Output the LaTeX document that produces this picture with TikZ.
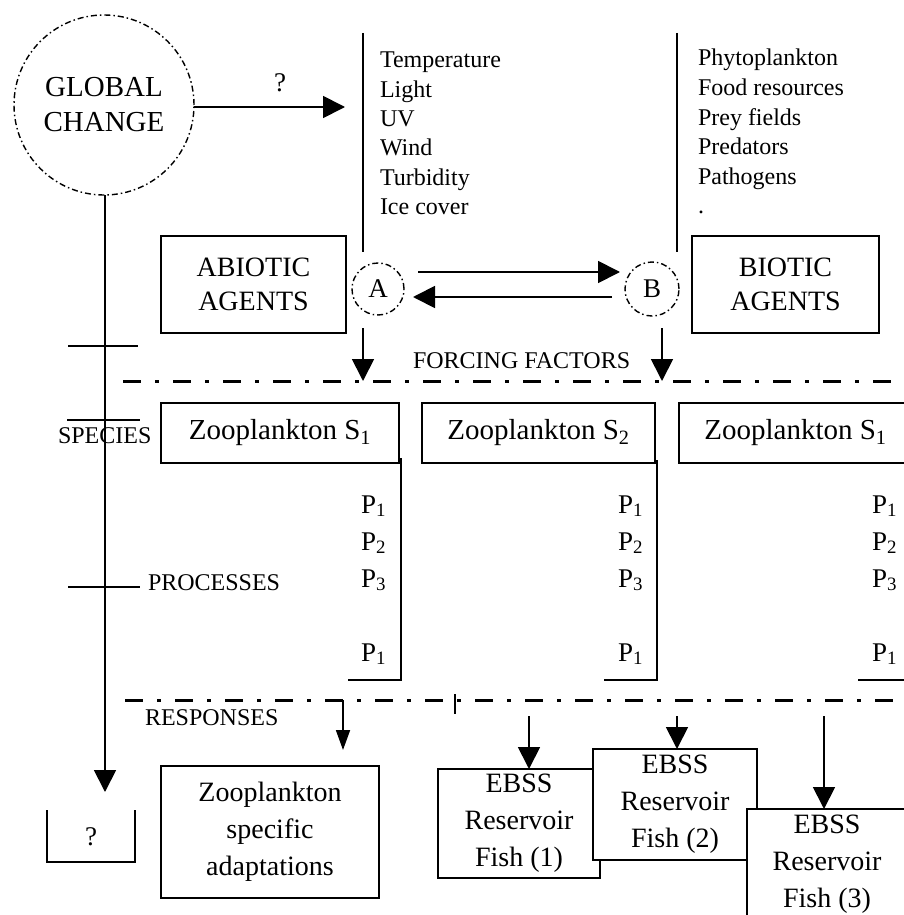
\documentclass[tikz,border=0pt]{standalone}
\usepackage{fontspec}
\setmainfont{Liberation Serif}
\usetikzlibrary{arrows.meta,calc}
\begin{document}
\begin{tikzpicture}[x=1pt,y=-1pt,
  every node/.style={inner sep=0pt, outer sep=0pt},
  thin line/.style={line width=1.6pt},
  boxst/.style={draw, line width=1.6pt, fill=white, align=center},
  arr/.style={line width=1.8pt, -{Triangle[width=22pt,length=22pt]}},
  sarr/.style={line width=1.8pt, -{Triangle[width=14pt,length=20pt]}},
  ddot/.style={line width=3pt, dash pattern=on 18pt off 14pt on 4pt off 14pt},
  circdash/.style={draw, circle, line width=1.4pt, dash pattern=on 6pt off 3pt on 1.5pt off 3pt},
  big/.style={font=\fontsize{29}{35}\selectfont},
  boxfont/.style={font=\fontsize{28}{37}\selectfont},
  lbl/.style={font=\fontsize{24}{29}\selectfont},
  plbl/.style={font=\fontsize{27}{30}\selectfont},
]
\useasboundingbox (0,0) rectangle (904,915);
\clip (0,0) rectangle (904,915);

% global change
\node[circdash, minimum size=180pt, big, align=center] (gc) at (104,105) {GLOBAL\\CHANGE};
\coordinate (gcend) at (345,107);
\draw[arr] (gc.east |- gcend) -- (gcend);
\node[font=\fontsize{27}{30}\selectfont, anchor=base] (q1) at (280,92) {?};

% vertical separators of lists
\coordinate (v1t) at (363,33); \coordinate (v1b) at (363,252);
\coordinate (v2t) at (677,33); \coordinate (v2b) at (677,252);
\draw[thin line] (v1t) -- (v1b);
\draw[thin line] (v2t) -- (v2b);

\foreach \t [count=\i] in {Temperature,Light,UV,Wind,Turbidity,Ice cover}
  \node[lbl, anchor=base west] (ab\i) at (380,{68+29.3*(\i-1)}) {\t};
\foreach \t [count=\i] in {Phytoplankton,Food resources,Prey fields,Predators,Pathogens,.}
  \node[lbl, anchor=base west] (bi\i) at (698,{66+29.5*(\i-1)}) {\t};

% agents
\node[boxst, minimum width=185pt, minimum height=97pt, font=\fontsize{28}{34}\selectfont] (abiotic) at (253.5,284.5) {ABIOTIC\\AGENTS};
\node[boxst, minimum width=187pt, minimum height=97pt, font=\fontsize{28}{34}\selectfont] (biotic) at (785.5,284.5) {BIOTIC\\AGENTS};
\node[circdash, minimum size=52pt, plbl] (A) at (378,289) {A};
\node[circdash, minimum size=54pt, plbl] (B) at (652,289) {B};

\coordinate (ab1s) at (418,272); \coordinate (ab1e) at (620,272);
\coordinate (ba1s) at (612,297); \coordinate (ba1e) at (413,297);
\draw[arr] (ab1s) -- (ab1e);
\draw[arr] (ba1s) -- (ba1e);

% forcing factors
\coordinate (fa) at (363,328); \coordinate (fb) at (662,328);
\coordinate (l1s) at (123,381); \coordinate (l1e) at (910,381);
\draw[ddot] (l1s) -- (l1e);
\draw[arr] (fa) -- (fa |- l1s);
\draw[arr] (fb) -- (fb |- l1s);
\node[lbl, anchor=base west] (forcing) at (413,368) {FORCING FACTORS};

% global vertical
\coordinate (gq) at (105,792);
\draw[arr] (gc.south -| gq) -- (gq);
\coordinate (t1a) at (68,346); \coordinate (t1b) at (138,346);
\coordinate (t2a) at (67,420); \coordinate (t2b) at (140,420);
\coordinate (t3a) at (68,587); \coordinate (t3b) at (140,587);
\draw[thin line] (t1a) -- (t1b);
\draw[thin line] (t2a) -- (t2b);
\draw[thin line] (t3a) -- (t3b);
\node[lbl, anchor=base west] (species) at (58,443) {SPECIES};
\node[lbl, anchor=base west] (processes) at (148,590) {PROCESSES};
\node[lbl, anchor=base west] (responses) at (145,725) {RESPONSES};

% species boxes
\node[boxst, font=\fontsize{29}{34}\selectfont, minimum width=238pt, minimum height=60pt] (zs1) at (280,433) {Zooplankton S\textsubscript{1}};
\node[boxst, font=\fontsize{29}{34}\selectfont, minimum width=233pt, minimum height=60pt] (zs2) at (538.5,433) {Zooplankton S\textsubscript{2}};
\node[boxst, font=\fontsize{29}{34}\selectfont, minimum width=233pt, minimum height=60pt] (zs3) at (795.5,433) {Zooplankton S\textsubscript{1}};

% process brackets
\draw[thin line] ([xshift=2pt]zs1.south east) ++(0,-5) -- ++(0,222) -- ++(-53,0);
\draw[thin line] ([xshift=2pt]zs2.south east) ++(0,-3) -- ++(0,220) -- ++(-53,0);
\draw[thin line] ([xshift=2pt]zs3.south east) ++(0,-3) -- ++(0,220) -- ++(-56,0);

\foreach \x/\c in {386/a,643/b,897/c}{
  \foreach \y/\s [count=\k] in {513/1,550/2,587/3,661/1}
    \node[plbl, anchor=base east] (p\c\k) at (\x,\y) {P\textsubscript{\s}};
}

% responses line
\coordinate (l2s) at (125,700); \coordinate (l2e) at (910,700);
\draw[ddot] (l2s) -- (l2e);
\coordinate (tk1) at (455,694); \coordinate (tk2) at (455,714);
\draw[line width=1.4pt] (tk1) -- (tk2);

% responses boxes
\node[boxst, boxfont, minimum width=218pt, minimum height=132pt] (adapt) at (270,832) {Zooplankton\\specific\\adaptations};
\coordinate (ra) at (343,700); \coordinate (rae) at (343,750);
\draw[line width=1.8pt] ([xshift=-14pt]ra) -- (ra);
\draw[sarr] (ra) -- (rae);

\node[boxst, boxfont, minimum width=162pt, minimum height=109pt] (fish1) at (519,823.5) {EBSS\\Reservoir\\Fish (1)};
\node[boxst, boxfont, minimum width=164pt, minimum height=111pt] (fish2) at (675,804.5) {EBSS\\Reservoir\\Fish (2)};
\node[boxst, boxfont, minimum width=160pt, minimum height=111pt] (fish3) at (827,864.5) {EBSS\\Reservoir\\Fish (3)};

\coordinate (fa1) at (529,716); \coordinate (fa2) at (677,716); \coordinate (fa3) at (824,716);
\draw[arr] (fa1) -- (fa1 |- fish1.north);
\draw[arr] (fa2) -- (fa2 |- fish2.north);
\draw[arr] (fa3) -- (fa3 |- fish3.north);

% question box
\coordinate (qa) at (47,810); \coordinate (qb) at (135,810);
\draw[thin line] (qa) -- (qa |- 0,862) -- (qb |- 0,862) -- (qb);
\node[font=\fontsize{27}{30}\selectfont, anchor=base] (q2) at (91,845) {?};
\end{tikzpicture}
\end{document}
